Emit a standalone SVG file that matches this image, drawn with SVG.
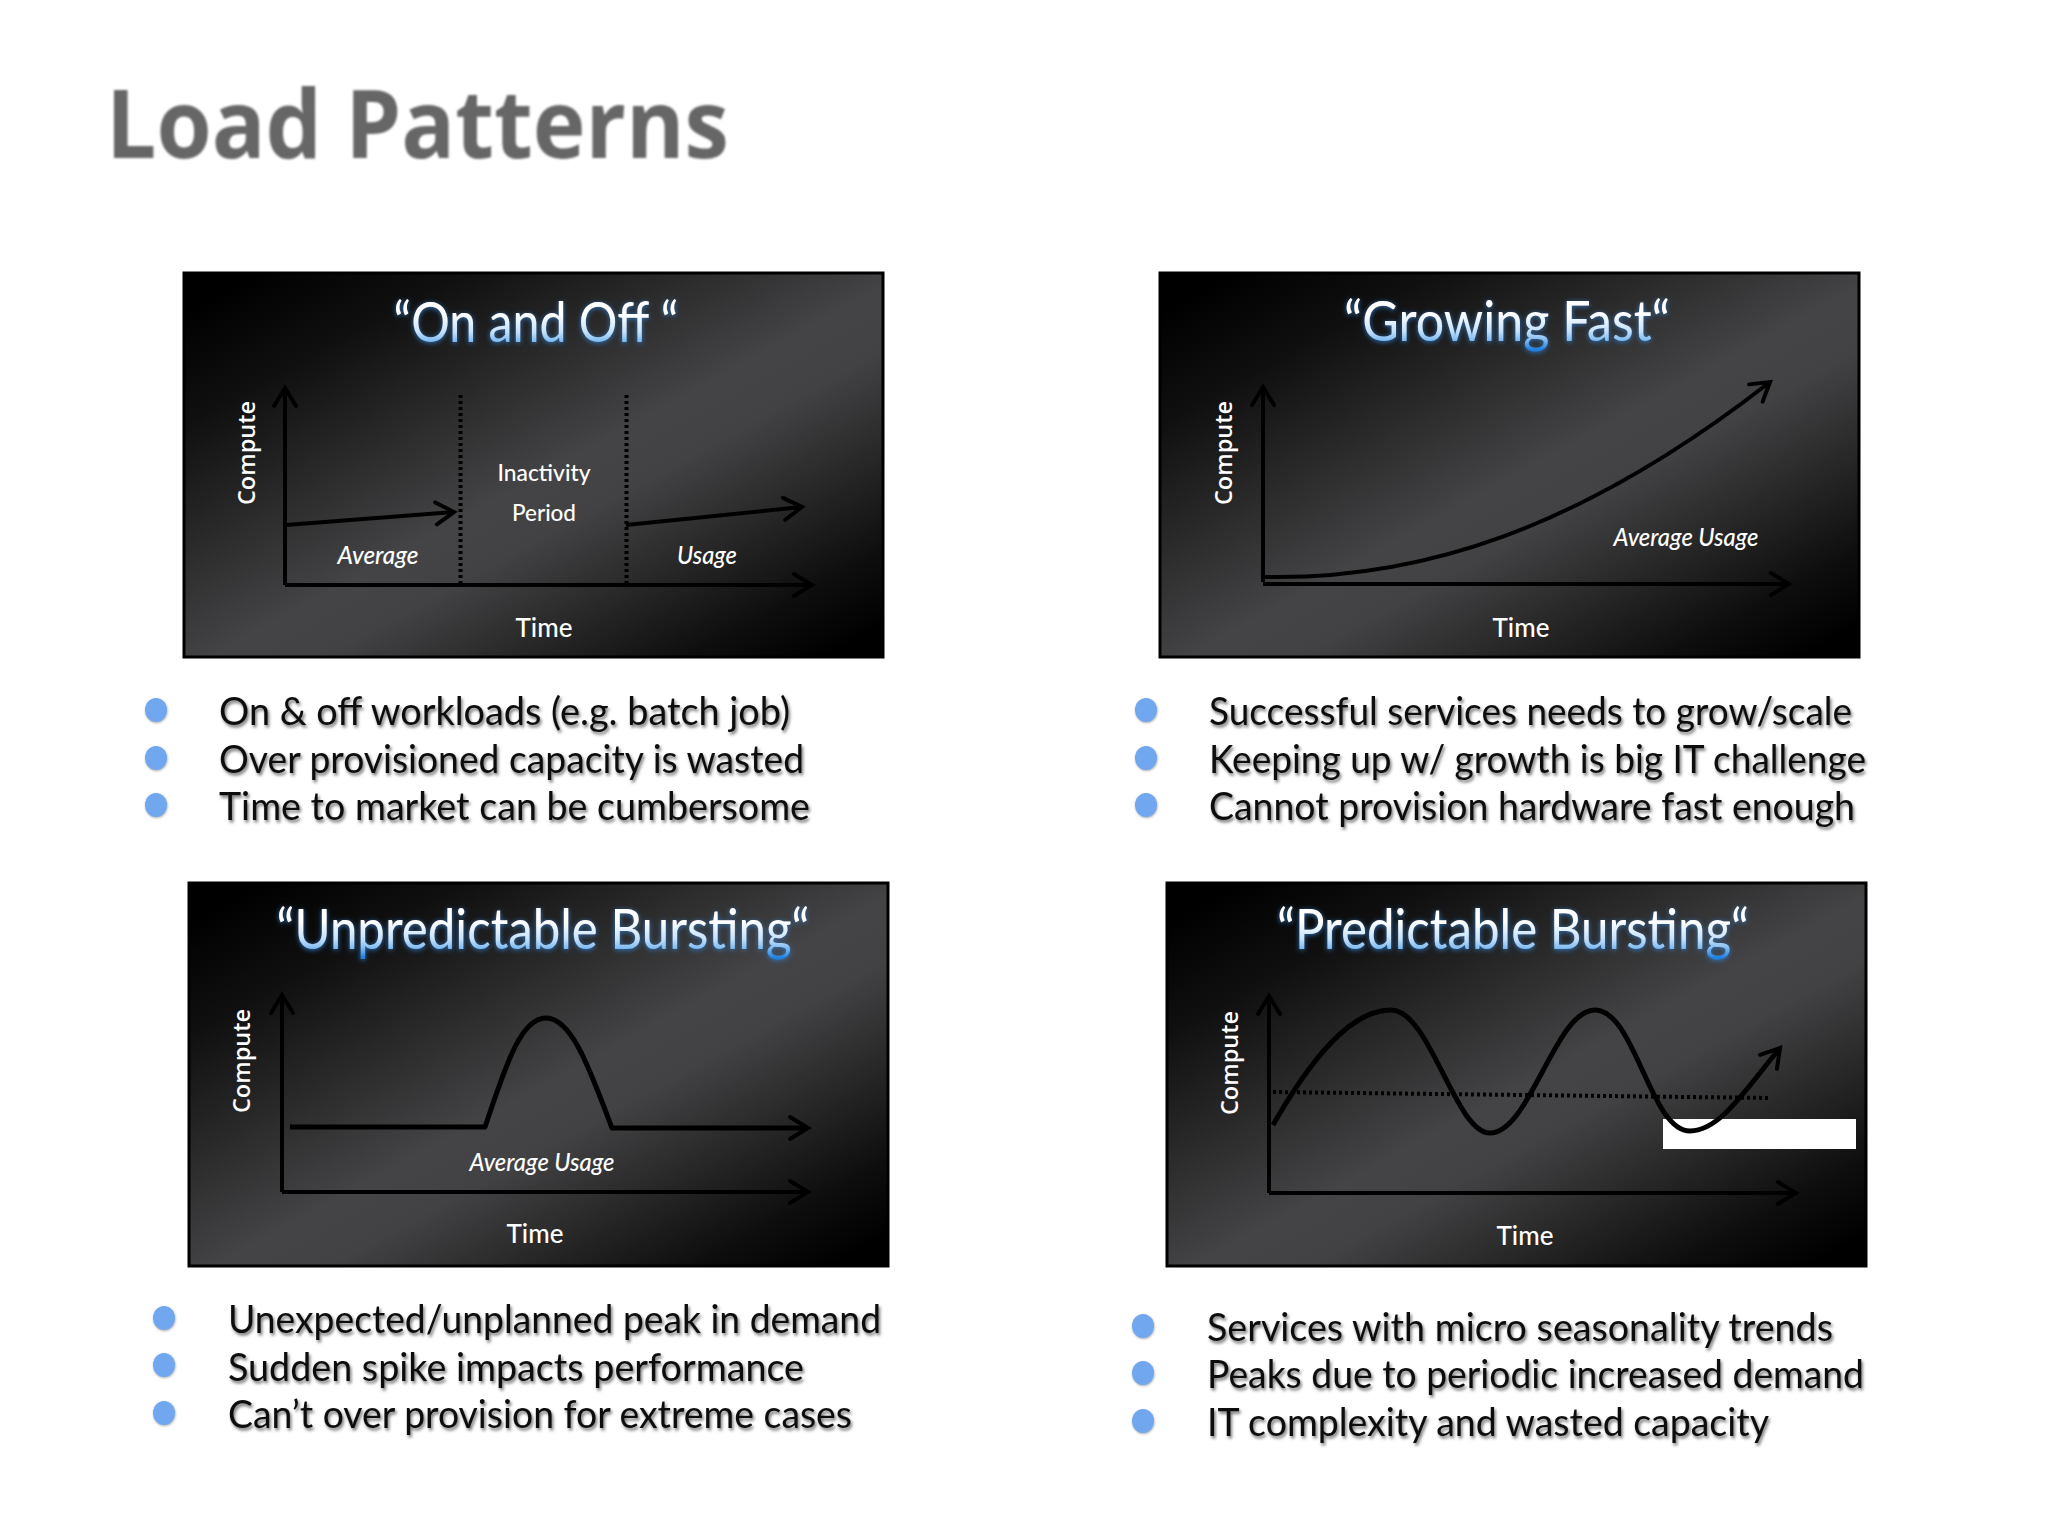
<svg xmlns="http://www.w3.org/2000/svg" width="2048" height="1536" viewBox="0 0 2048 1536">
<defs>
<linearGradient id="bg" x1="0" y1="0" x2="1" y2="1">
<stop offset="0.05" stop-color="#000"/><stop offset="0.2" stop-color="#101011"/><stop offset="0.36" stop-color="#2a2a2b"/><stop offset="0.52" stop-color="#444446"/><stop offset="0.6" stop-color="#424244"/><stop offset="0.72" stop-color="#2a2a2b"/><stop offset="0.86" stop-color="#0e0e0e"/><stop offset="0.96" stop-color="#000"/>
</linearGradient>
<linearGradient id="tg" x1="0" y1="0" x2="0" y2="1">
<stop offset="0.42" stop-color="#fff"/><stop offset="0.68" stop-color="#c4e1fa"/><stop offset="0.8" stop-color="#86bff3"/><stop offset="0.95" stop-color="#1f80e0"/>
</linearGradient>
<filter id="glow" x="-10%" y="-30%" width="120%" height="160%"><feDropShadow dx="0" dy="1" stdDeviation="2.5" flood-color="#2f78c4" flood-opacity="0.95"/></filter>
<filter id="shadow" x="-3%" y="-20%" width="106%" height="150%"><feGaussianBlur in="SourceGraphic" stdDeviation="0.4" result="b"/><feDropShadow in="b" dx="1.5" dy="2.5" stdDeviation="1.5" flood-color="#000" flood-opacity="0.55"/></filter>
<filter id="soft" x="-3%" y="-10%" width="106%" height="120%"><feGaussianBlur stdDeviation="0.9"/></filter>
<filter id="bul" x="-30%" y="-30%" width="160%" height="160%"><feGaussianBlur in="SourceGraphic" stdDeviation="0.6" result="b"/><feDropShadow in="b" dx="0.5" dy="1" stdDeviation="1" flood-color="#777" flood-opacity="0.6"/></filter>
<filter id="ln" x="-2%" y="-2%" width="104%" height="104%"><feGaussianBlur stdDeviation="0.5"/></filter>
<marker id="head" markerUnits="userSpaceOnUse" markerWidth="40" markerHeight="40" refX="30" refY="20" orient="auto" overflow="visible">
<path d="M12,9 L30,20 L12,31" fill="none" stroke="#000" stroke-width="4" stroke-linecap="round" stroke-linejoin="miter"/>
</marker>
</defs>
<style>
text{font-family:"Lato","Liberation Sans",sans-serif}
.panel{fill:url(#bg);stroke:#000;stroke-width:3}
.ttl{font-size:57px;fill:url(#tg);filter:url(#glow);text-anchor:middle}
.lbl{font-size:26px;fill:#fff;text-anchor:middle;font-weight:500}
.sm{font-size:23px;fill:#fff;text-anchor:middle;font-weight:500}
.it{font-size:24px;fill:#fff;text-anchor:middle;font-style:italic;font-weight:500}
.cmp{font-family:"Open Sans","Lato",sans-serif;font-size:23.500px;fill:#fff;text-anchor:middle;font-weight:600}
.bt{font-size:39px;fill:#111;filter:url(#shadow)}
.dot{fill:#6fa7ee;filter:url(#bul)}
.ax{fill:none;stroke:#000;stroke-width:4;marker-end:url(#head)}
.cv{fill:none;stroke:#000;stroke-width:5;stroke-linejoin:round;marker-end:url(#head)}
.dt{fill:none;stroke:#000;stroke-width:4;stroke-dasharray:3 3}
#heading text{font-family:"Open Sans","Lato",sans-serif;font-size:95px;font-weight:700;fill:#666;filter:url(#soft)}
#connectors{filter:url(#ln)}
</style>
<rect width="2048" height="1536" fill="#fff"/>
<g id="heading"><text x="106" y="158" textLength="623" lengthAdjust="spacingAndGlyphs">Load Patterns</text></g>

<g id="panel-on-off">
<rect class="panel" x="184" y="273" width="699" height="384"/>
<text class="ttl" x="536" y="342" textLength="285" lengthAdjust="spacingAndGlyphs">“On and Off “</text>
<text class="cmp" transform="translate(255 453) rotate(-90)">Compute</text>
<text class="sm" x="544" y="481" textLength="93" lengthAdjust="spacingAndGlyphs">Inactivity</text>
<text class="sm" x="544" y="521" textLength="64" lengthAdjust="spacingAndGlyphs">Period</text>
<text class="it" x="378" y="564" textLength="81" lengthAdjust="spacingAndGlyphs">Average</text>
<text class="it" x="707" y="564" textLength="60" lengthAdjust="spacingAndGlyphs">Usage</text>
<text class="lbl" x="544" y="637">Time</text>
</g>
<g id="panel-growing">
<rect class="panel" x="1160" y="273" width="699" height="384"/>
<text class="ttl" x="1507" y="341" textLength="326" lengthAdjust="spacingAndGlyphs">“Growing Fast“</text>
<text class="cmp" transform="translate(1232 453) rotate(-90)">Compute</text>
<text class="it" x="1686" y="546" textLength="145" lengthAdjust="spacingAndGlyphs">Average Usage</text>
<text class="lbl" x="1521" y="637">Time</text>
</g>
<g id="panel-unpredictable">
<rect class="panel" x="189" y="883" width="699" height="383"/>
<text class="ttl" x="543" y="949" textLength="533" lengthAdjust="spacingAndGlyphs">“Unpredictable Bursting“</text>
<text class="cmp" transform="translate(250 1061) rotate(-90)">Compute</text>
<text class="it" x="542" y="1171" textLength="145" lengthAdjust="spacingAndGlyphs">Average Usage</text>
<text class="lbl" x="535" y="1243">Time</text>
</g>
<g id="panel-predictable">
<rect class="panel" x="1167" y="883" width="699" height="383"/>
<text class="ttl" x="1513" y="949" textLength="472" lengthAdjust="spacingAndGlyphs">“Predictable Bursting“</text>
<text class="cmp" transform="translate(1238 1063) rotate(-90)">Compute</text>
<rect x="1663" y="1119" width="193" height="30" fill="#fff"/>
<text class="lbl" x="1525" y="1245">Time</text>
</g>

<g id="connectors">
<path class="ax" d="M285 585V388"/>
<path class="ax" d="M285 585H812"/>
<path class="ax" d="M286 525L454 512"/>
<path class="ax" d="M626 525L802 507"/>
<path class="dt" d="M460.500 395V585M626.500 395V585"/>
<path class="ax" d="M1263 582V387"/>
<path class="ax" d="M1263 584H1789"/>
<path class="ax" d="M1264 577C1420 580 1580 530 1770 382"/>
<path class="ax" d="M282 1192V995"/>
<path class="ax" d="M282 1192H808"/>
<path class="cv" d="M290 1127H485C505 1068 520 1018 546 1018C572 1018 590 1070 612 1128H808"/>
<path class="ax" d="M1269 1193V996"/>
<path class="ax" d="M1269 1193H1796"/>
<path class="dt" d="M1273 1092L1771 1098"/>
<path class="cv" d="M1273 1125C1310 1060 1350 1010 1391 1010C1430 1010 1455 1133 1490 1133C1530 1133 1555 1010 1595 1010C1635 1010 1650 1131 1690 1131C1720 1131 1745 1090 1780 1048"/>
</g>

<g id="bullets-on-off">
<ellipse class="dot" cx="156" cy="710" rx="11" ry="12"/><ellipse class="dot" cx="156" cy="758" rx="11" ry="12"/><ellipse class="dot" cx="156" cy="805" rx="11" ry="12"/>
<text class="bt" x="219" y="725" textLength="571" lengthAdjust="spacingAndGlyphs">On &amp; off workloads (e.g. batch job)</text>
<text class="bt" x="219" y="773" textLength="585" lengthAdjust="spacingAndGlyphs">Over provisioned capacity is wasted</text>
<text class="bt" x="219" y="820" textLength="591" lengthAdjust="spacingAndGlyphs">Time to market can be cumbersome</text>
</g>
<g id="bullets-growing">
<ellipse class="dot" cx="1146" cy="710" rx="11" ry="12"/><ellipse class="dot" cx="1146" cy="758" rx="11" ry="12"/><ellipse class="dot" cx="1146" cy="805" rx="11" ry="12"/>
<text class="bt" x="1209" y="725" textLength="643" lengthAdjust="spacingAndGlyphs">Successful services needs to grow/scale</text>
<text class="bt" x="1209" y="773" textLength="657" lengthAdjust="spacingAndGlyphs">Keeping up w/ growth is big IT challenge</text>
<text class="bt" x="1209" y="820" textLength="646" lengthAdjust="spacingAndGlyphs">Cannot provision hardware fast enough</text>
</g>
<g id="bullets-unpredictable">
<ellipse class="dot" cx="164" cy="1318" rx="11" ry="12"/><ellipse class="dot" cx="164" cy="1365" rx="11" ry="12"/><ellipse class="dot" cx="164" cy="1413" rx="11" ry="12"/>
<text class="bt" x="228" y="1333" textLength="653" lengthAdjust="spacingAndGlyphs">Unexpected/unplanned peak in demand</text>
<text class="bt" x="228" y="1381" textLength="576" lengthAdjust="spacingAndGlyphs">Sudden spike impacts performance</text>
<text class="bt" x="228" y="1428" textLength="624" lengthAdjust="spacingAndGlyphs">Can’t over provision for extreme cases</text>
</g>
<g id="bullets-predictable">
<ellipse class="dot" cx="1143" cy="1326" rx="11" ry="12"/><ellipse class="dot" cx="1143" cy="1373" rx="11" ry="12"/><ellipse class="dot" cx="1143" cy="1421" rx="11" ry="12"/>
<text class="bt" x="1207" y="1341" textLength="626" lengthAdjust="spacingAndGlyphs">Services with micro seasonality trends</text>
<text class="bt" x="1207" y="1388" textLength="657" lengthAdjust="spacingAndGlyphs">Peaks due to periodic increased demand</text>
<text class="bt" x="1207" y="1436" textLength="562" lengthAdjust="spacingAndGlyphs">IT complexity and wasted capacity</text>
</g>
</svg>
